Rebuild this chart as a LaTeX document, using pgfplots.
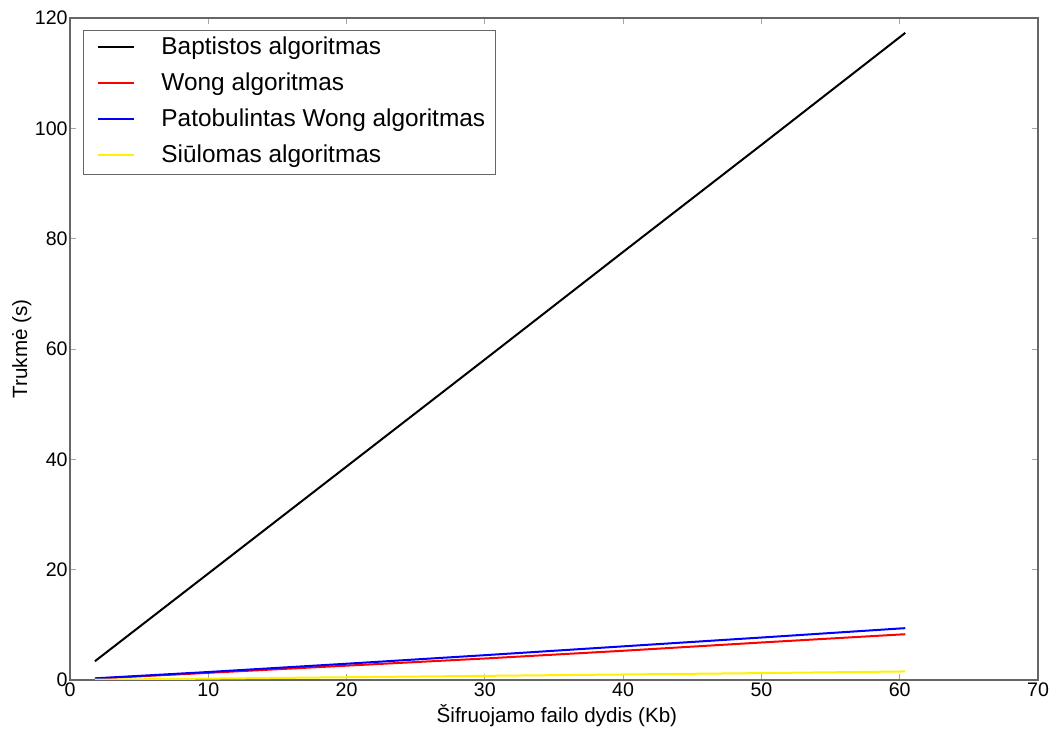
\documentclass[border=0pt]{standalone}
\usepackage{fontspec}
\setmainfont{Liberation Sans}
\usepackage{pgfplots}
\pgfplotsset{compat=1.18}
\begin{document}
\begin{tikzpicture}
\begin{axis}[
  at={(0,0)}, anchor=south west,
  scale only axis,
  width=484bp, height=331bp,
  xmin=0, xmax=70, ymin=0, ymax=120,
  xtick={0,10,...,70}, ytick={0,20,...,120},
  tick align=inside,
  major tick length=3bp,
  tick style={gray!70, line width=0.4bp},
  axis line style={gray!80!black, line width=0.6bp},
  tick label style={font=\fontsize{9.8bp}{11bp}\selectfont},
  xticklabel style={inner ysep=1bp},
  yticklabel style={inner xsep=1bp},
  /pgf/number format/assume math mode=true,
  xlabel={Šifruojamo failo dydis (Kb)},
  ylabel={Trukmė (s)},
  xlabel style={font=\fontsize{10.3bp}{12bp}\selectfont, at={(axis description cs:0.503,0)}, anchor=base, yshift=-21bp},
  ylabel style={font=\fontsize{10.3bp}{12bp}\selectfont, at={(axis description cs:0,0.5)}, anchor=base, yshift=21.5bp},
  legend style={at={(axis description cs:0.0134,0.9819)}, anchor=north west,
    draw=gray!80!black, line width=0.5bp,
    font=\fontsize{12.2bp}{14bp}\selectfont,
    inner xsep=5bp, inner ysep=3bp,
    row sep=6bp, column sep=13bp,
    nodes={inner sep=0pt, text height=9bp, text depth=3bp},
    cells={anchor=west}},
  legend cell align=left,
  legend image code/.code={\path[draw=none,fill=none] (-2.5bp,-4bp) rectangle (18bp,4bp);\draw[#1, line width=1bp] (0bp,0.5bp) -- (18bp,0.5bp);},
  every axis plot/.append style={line width=1bp},
]
\addplot[black] coordinates {(1.8,3.4) (10,19.3) (20,38.7) (30,58.1) (40,77.6) (50,97.0) (60.4,117.3)};
\addlegendentry{Baptistos algoritmas}
\addplot[red] coordinates {(1.8,0.25) (10,1.3) (20,2.6) (30,3.9) (40,5.3) (50,6.8) (60.4,8.3)};
\addlegendentry{Wong algoritmas}
\addplot[blue] coordinates {(1.8,0.3) (10,1.45) (20,2.95) (30,4.5) (40,6.1) (50,7.7) (60.4,9.4)};
\addlegendentry{Patobulintas Wong algoritmas}
\addplot[yellow] coordinates {(1.8,0.05) (10,0.25) (20,0.5) (30,0.75) (40,1.0) (50,1.25) (60.4,1.55)};
\addlegendentry{Siūlomas algoritmas}
\end{axis}
\pgfresetboundingbox
\useasboundingbox (-35bp,-25.5bp) rectangle (493.5bp,340bp);
\end{tikzpicture}
\end{document}
